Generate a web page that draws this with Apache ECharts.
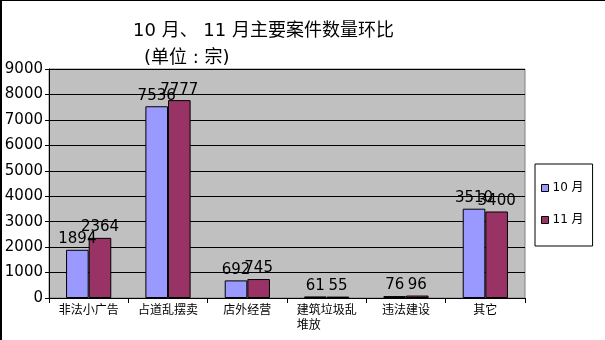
<!DOCTYPE html>
<html>
<head>
<meta charset="utf-8">
<script src="https://cdn.jsdelivr.net/npm/echarts@6/dist/echarts.min.js"></script>
<style>
html,body{margin:0;padding:0;background:#fff;}
#chart{width:605px;height:340px;}
</style>
</head>
<body>
<div id="chart"></div>
<script>
var categories = ['非法小广告', '占道乱摆卖', '店外经营', '建筑垃圾乱堆放', '违法建设', '其它'];
var seriesNames = ['10 月', '11 月'];
var octValues = [1894, 7536, 692, 61, 76, 3510];
var novValues = [2364, 7777, 745, 55, 96, 3400];
var yTicks = [0, 1000, 2000, 3000, 4000, 5000, 6000, 7000, 8000, 9000];

var FONT = 'DejaVu Sans, Noto Sans CJK SC, sans-serif';
var chart = echarts.init(document.getElementById('chart'), null, {renderer: 'canvas'});

function barSeries(name, data, color) {
  return {
    name: name,
    type: 'bar',
    data: data,
    barGap: '0%',
    barCategoryGap: '43%',
    itemStyle: {color: color, borderColor: '#000', borderWidth: 1},
    label: {
      show: true, position: 'top', distance: 3,
      color: '#000', fontSize: 15, fontFamily: FONT
    },
    emphasis: {disabled: true}
  };
}

chart.setOption({
  animation: false,
  backgroundColor: '#fff',
  title: [
    {text: '10 月、 11 月主要案件数量环比', left: 128, top: 17,
     textStyle: {fontSize: 18, fontWeight: 'normal', color: '#000', fontFamily: FONT}},
    {text: '(单位 : 宗)', left: 139, top: 44,
     textStyle: {fontSize: 18, fontWeight: 'normal', color: '#000', fontFamily: FONT}}
  ],
  legend: {
    orient: 'vertical',
    left: 535, top: 164,
    padding: [18, 9, 20, 6],
    itemGap: 20,
    itemWidth: 7, itemHeight: 7,
    borderColor: '#000', borderWidth: 1,
    backgroundColor: '#fff',
    icon: 'rect',
    selectedMode: false,
    textStyle: {fontSize: 12, color: '#000', fontFamily: FONT, padding: [0, 0, 0, -1]},
    data: seriesNames.map(function (n) { return {name: n, itemStyle: {borderColor: '#000', borderWidth: 1}}; })
  },
  grid: {
    left: 49, right: 80, top: 69, bottom: 42,
    show: true, backgroundColor: '#C0C0C0', borderColor: '#808080', borderWidth: 1
  },
  xAxis: {
    type: 'category',
    data: categories,
    axisLine: {lineStyle: {color: '#000', width: 1}},
    axisTick: {show: true, length: 5, lineStyle: {color: '#000'}},
    axisLabel: {
      interval: 0, margin: 5, fontSize: 12, color: '#000', fontFamily: FONT, lineHeight: 15,
      formatter: function (v) {
        return v.length > 5 ? v.slice(0, 5) + '\n' + v.slice(5) + '\u3000\u3000\u3000' : v;
      }
    }
  },
  yAxis: {
    type: 'value',
    min: yTicks[0], max: yTicks[yTicks.length - 1], interval: 1000,
    axisLine: {show: true, lineStyle: {color: '#000', width: 1}},
    axisTick: {show: true, length: 4, lineStyle: {color: '#000'}},
    axisLabel: {margin: 6, fontSize: 15, color: '#000', fontFamily: FONT,
      formatter: function (v) { return String(v); }},
    splitLine: {show: true, lineStyle: {color: '#000', width: 1}}
  },
  series: [
    barSeries(seriesNames[0], octValues, '#9999FF'),
    barSeries(seriesNames[1], novValues, '#993366')
  ],
  graphic: [
    {type: 'rect', shape: {x: 0, y: 0, width: 605, height: 1}, style: {fill: '#000'}, silent: true},
    {type: 'rect', shape: {x: 0, y: 0, width: 2, height: 340}, style: {fill: '#000'}, silent: true}
  ]
});
</script>
</body>
</html>
